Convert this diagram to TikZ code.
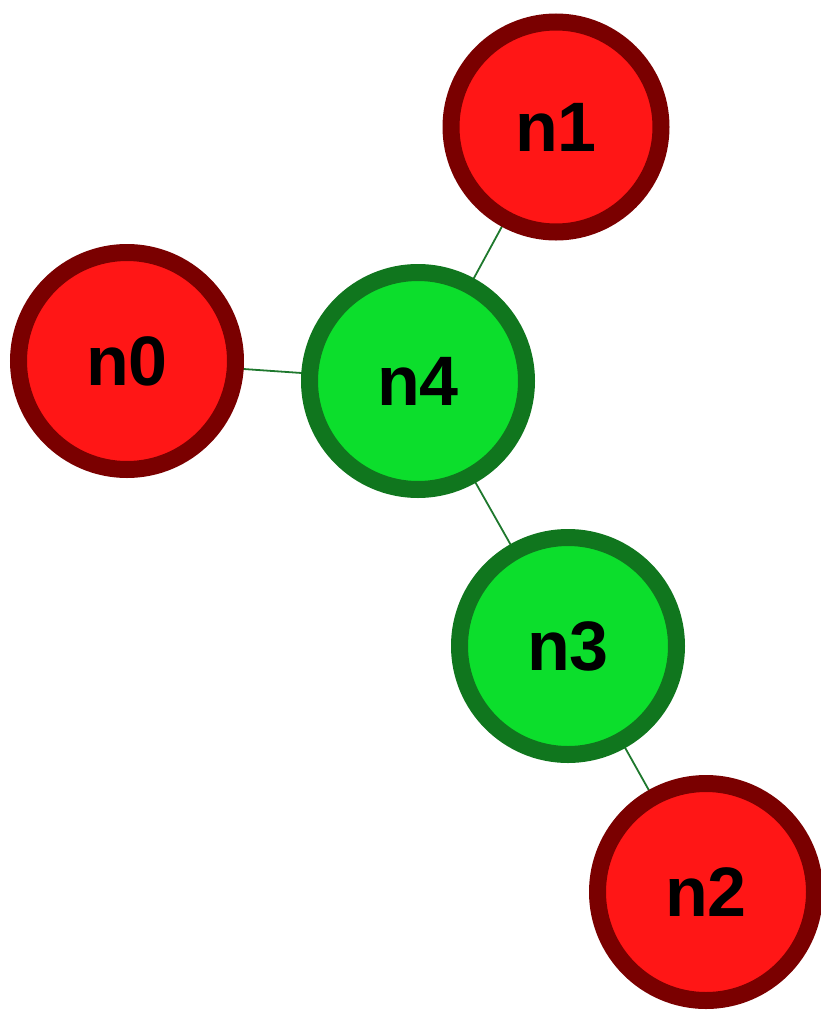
\documentclass[tikz,border=0pt]{standalone}
\usepackage{fontspec}
\setmainfont{Liberation Sans}
\usetikzlibrary{backgrounds}
\definecolor{redfill}{RGB}{255,22,22}
\definecolor{redline}{RGB}{122,0,0}
\definecolor{greenfill}{RGB}{12,222,44}
\definecolor{greenline}{RGB}{16,118,30}
\definecolor{edgecol}{RGB}{30,120,45}
\tikzset{
  vert/.style={circle, line width=17pt, minimum size=217pt, inner sep=0pt, outer sep=0pt,
    font=\fontsize{70}{70}\selectfont\bfseries, text=black},
  redv/.style={vert, fill=redfill, draw=redline},
  greenv/.style={vert, fill=greenfill, draw=greenline},
  link/.style={draw=edgecol, line width=1.8pt}
}
\begin{document}
\begin{tikzpicture}[x=1pt,y=-1pt]
\useasboundingbox (0,0) rectangle (821,1012);
\node[redv, minimum size=210pt] (n1) at (556,127) {n1};
\node[redv] (n0) at (127,361) {n0};
\node[greenv] (n4) at (418,381) {n4};
\node[greenv] (n3) at (568,646) {n3};
\node[redv] (n2) at (706,892) {n2};
\begin{pgfonlayer}{background}
\draw[link] (n0) -- (n4);
\draw[link] (n4) -- (n1);
\draw[link] (n4) -- (n3);
\draw[link] (n3) -- (n2);
\end{pgfonlayer}
\end{tikzpicture}
\end{document}
